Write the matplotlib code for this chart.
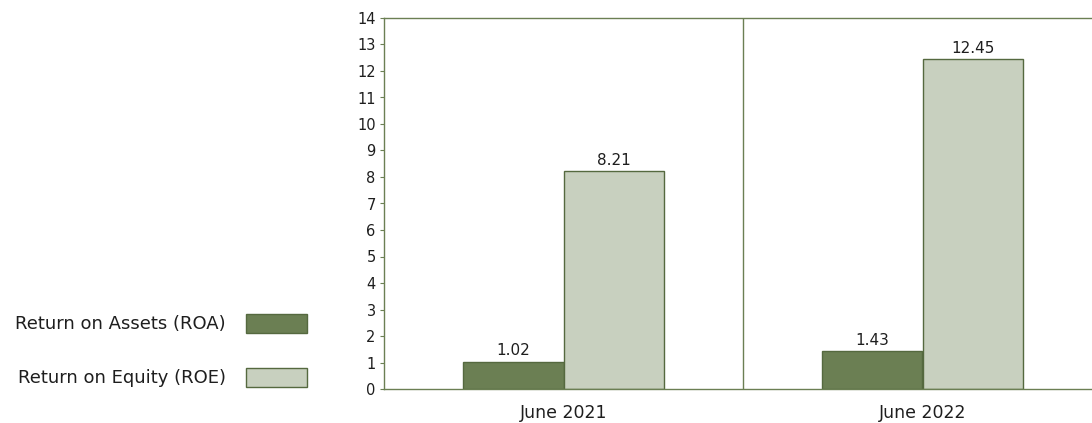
import matplotlib.pyplot as plt
from matplotlib.patches import Rectangle
import numpy as np

plt.rcParams['font.family'] = ['DejaVu Sans']

# Datos
periods = ["June 2021", "June 2022"]
series_names = ["Return on Assets (ROA)", "Return on Equity (ROE)"]
roa = [1.02, 1.43]
roe = [8.21, 12.45]

fill_colors = ['#6b7f53', '#c8d0bf']
edge_color = '#55693f'
axis_color = '#6b7f53'
text_color = '#1e1e1e'

fig = plt.figure(figsize=(10.92, 4.23), dpi=100)
ax = fig.add_axes([384 / 1092, 1 - 389 / 423, (1092 - 384) / 1092, (389 - 18) / 423])

x = np.arange(len(periods))
w = 0.281
bars_roa = ax.bar(x - w / 2, roa, w, color=fill_colors[0], edgecolor=edge_color, linewidth=1)
bars_roe = ax.bar(x + w / 2, roe, w, color=fill_colors[1], edgecolor=edge_color, linewidth=1)

for bars, vals in [(bars_roa, roa), (bars_roe, roe)]:
    for b, v in zip(bars, vals):
        ax.annotate(f"{v:.2f}", (b.get_x() + b.get_width() / 2, v),
                    xytext=(0, 2.5), textcoords='offset points',
                    ha='center', va='bottom', fontsize=11, color=text_color)

ax.set_ylim(0, 14)
ax.set_yticks(range(0, 15))
ax.set_xlim(-0.5, -0.5 + (1092 - 384) / 359)
ax.set_xticks(x)
ax.set_xticklabels(periods, fontsize=12.5, color=text_color)
ax.tick_params(axis='x', length=0, pad=11)
ax.tick_params(axis='y', length=3, color=axis_color, labelsize=10.5, labelcolor=text_color, pad=3)

# separador entre periodos
ax.axvline(0.5, color=axis_color, linewidth=1)

for side in ['left', 'top', 'bottom']:
    ax.spines[side].set_color(axis_color)
    ax.spines[side].set_linewidth(1)
ax.spines['right'].set_visible(False)

# Leyenda a la izquierda
legend_y = [324, 378]
for name, col, yy in zip(series_names, fill_colors, legend_y):
    fig.text(226 / 1092, 1 - yy / 423, name, ha='right', va='center', fontsize=13, color=text_color)
    fig.patches.append(Rectangle((246 / 1092, 1 - (yy + 9) / 423), 61 / 1092, 19 / 423,
                                 transform=fig.transFigure, facecolor=col,
                                 edgecolor=edge_color, linewidth=1))

fig.savefig('out.png', dpi=100)
